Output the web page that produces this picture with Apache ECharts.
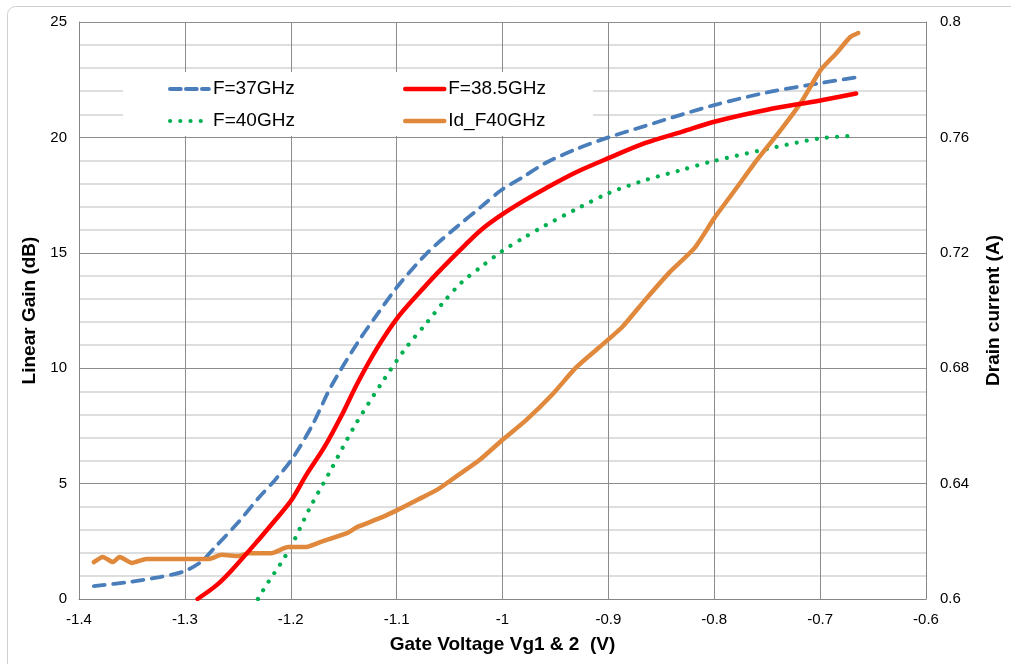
<!DOCTYPE html>
<html>
<head>
<meta charset="utf-8">
<script src="https://cdn.jsdelivr.net/npm/echarts@6/dist/echarts.min.js"></script>
<style>
html,body{margin:0;padding:0;background:#fff;}
#chart{width:1011px;height:664px;}
</style>
</head>
<body>
<div id="chart"></div>
<script>
// ---- data ----
const xTicks = [-1.4, -1.3, -1.2, -1.1, -1.0, -0.9, -0.8, -0.7, -0.6];
const gainTicks = [0, 5, 10, 15, 20, 25];
const idTicks = [0.6, 0.64, 0.68, 0.72, 0.76, 0.8];

const seriesNames = ['F=37GHz', 'F=38.5GHz', 'F=40GHz', 'Id_F40GHz'];

const vg37 = [-1.386, -1.352, -1.324, -1.302, -1.285, -1.271, -1.25, -1.23, -1.215, -1.199, -1.18, -1.162, -1.137, -1.118, -1.099, -1.071, -1.043, -1.02, -1.001, -0.98, -0.959, -0.93, -0.9, -0.865, -0.83, -0.8, -0.75, -0.7, -0.666];
const gain37 = [0.56, 0.74, 0.95, 1.18, 1.6, 2.27, 3.3, 4.4, 5.15, 6.05, 7.5, 9.2, 11.1, 12.35, 13.55, 15.0, 16.13, 17.0, 17.72, 18.3, 18.9, 19.5, 20.0, 20.5, 21.0, 21.4, 21.95, 22.35, 22.6];

const vg385 = [-1.288, -1.27, -1.2555, -1.2305, -1.215, -1.1993, -1.185, -1.168, -1.152, -1.137, -1.118, -1.0994, -1.08, -1.062, -1.037, -1.02, -1.001, -0.98, -0.959, -0.93, -0.9, -0.865, -0.83, -0.8, -0.75, -0.7, -0.666];
const gain385 = [0, 0.6, 1.26, 2.56, 3.4, 4.29, 5.4, 6.6, 7.95, 9.35, 10.9, 12.17, 13.2, 14.1, 15.26, 16.0, 16.64, 17.25, 17.8, 18.5, 19.1, 19.76, 20.25, 20.68, 21.2, 21.6, 21.9];

const vg40 = [-1.231, -1.221, -1.21, -1.199, -1.182, -1.163, -1.14, -1.1135, -1.0917, -1.071, -1.055, -1.039, -1.02, -1.001, -0.98, -0.959, -0.93, -0.9, -0.865, -0.83, -0.803, -0.75, -0.7, -0.667];
const gain40 = [0, 0.75, 1.5, 2.34, 3.94, 5.52, 7.47, 9.4, 10.85, 12.0, 12.9, 13.7, 14.4, 15.05, 15.65, 16.2, 16.9, 17.58, 18.15, 18.6, 18.95, 19.5, 19.96, 20.07];

const vgId = [-1.386, -1.3775, -1.368, -1.3616, -1.35, -1.3363, -1.2773, -1.2652, -1.2493, -1.2399, -1.2184, -1.2024, -1.1865, -1.1715, -1.1463, -1.1369, -1.1154, -1.0994, -1.0807, -1.062, -1.0433, -1.0217, -1.0002, -0.9777, -0.9534, -0.9309, -0.9094, -0.8869, -0.8654, -0.842, -0.8185, -0.7998, -0.7783, -0.7596, -0.7371, -0.7184, -0.6996, -0.6846, -0.6715, -0.664];
const drainId = [0.6128, 0.6146, 0.6128, 0.6146, 0.6125, 0.6139, 0.6139, 0.6153, 0.6149, 0.6159, 0.6159, 0.618, 0.618, 0.6198, 0.6229, 0.625, 0.6281, 0.6308, 0.6343, 0.6378, 0.6426, 0.6482, 0.6551, 0.662, 0.6707, 0.6801, 0.687, 0.6943, 0.7036, 0.7133, 0.7217, 0.7321, 0.7428, 0.7522, 0.7626, 0.7719, 0.7833, 0.7892, 0.7948, 0.7962];

// ---- build ----
const pairs = (xs, ys) => xs.map((x, i) => [x, ys[i]]);
const FONT = 'Arial, "Liberation Sans", sans-serif';
const colors = ['#4A7EBB', '#FF0000', '#00B050', '#E0893D'];
const styles = [
  {color: colors[0], width: 3.8, type: [11, 8.5], cap: 'round'},
  {color: colors[1], width: 4.5, type: 'solid', cap: 'round'},
  {color: colors[2], width: 4.2, type: [0.01, 10.2], cap: 'round'},
  {color: colors[3], width: 4.5, type: 'solid', cap: 'round', join: 'round'}
];
const legendStyles = [
  {color: colors[0], width: 3.8, type: [11, 5], cap: 'round'},
  {color: colors[1], width: 4.5, type: 'solid', cap: 'round'},
  {color: colors[2], width: 4.2, type: [0.01, 10.2], cap: 'round'},
  {color: colors[3], width: 4.5, type: 'solid', cap: 'round'}
];

const chart = echarts.init(document.getElementById('chart'), null, {renderer: 'canvas'});

function legendAt(i, left, top) {
  return {
    data: [seriesNames[i]], left: left, top: top, padding: 0,
    itemWidth: 39, itemHeight: 12, itemGap: 0,
    itemStyle: {opacity: 0, color: 'rgba(0,0,0,0)', borderWidth: 0},
    lineStyle: legendStyles[i],
    textStyle: {fontFamily: FONT, fontSize: 19, color: '#000', lineHeight: 22, padding: [0, 0, 0, -1]},
    selectedMode: false
  };
}

const option = {
  animation: false,
  backgroundColor: '#fff',
  grid: {left: 79, right: 77, top: 22, bottom: 65, containLabel: false},
  legend: [
    legendAt(0, 168, 78),
    legendAt(1, 403, 78),
    legendAt(2, 168, 110),
    legendAt(3, 403, 110)
  ],
  graphic: [
    {type: 'rect', z: 1, silent: true, shape: {x: 123, y: 72, width: 470, height: 64}, style: {fill: '#fff'}},
    {type: 'rect', z: 0, silent: true, shape: {x: 7.5, y: 6.5, width: 1030, height: 700, r: 8}, style: {fill: 'none', stroke: '#cfcfcf', lineWidth: 1}}
  ],
  xAxis: {
    type: 'value', min: xTicks[0], max: xTicks[xTicks.length - 1], interval: 0.1,
    name: 'Gate Voltage Vg1 & 2  (V)', nameLocation: 'middle', nameGap: 36,
    nameTextStyle: {fontFamily: FONT, fontSize: 19, fontWeight: 'bold', color: '#000'},
    axisLine: {show: true, onZero: false, lineStyle: {color: '#868686', width: 1}},
    axisTick: {show: false},
    axisLabel: {fontFamily: FONT, fontSize: 15, color: '#000', margin: 13,
      formatter: v => String(Math.round(v * 10) / 10)},
    splitLine: {show: true, lineStyle: {color: '#8c8c8c', width: 1}}
  },
  yAxis: [
    {
      type: 'value', min: gainTicks[0], max: gainTicks[gainTicks.length - 1], interval: 5,
      position: 'left',
      name: 'Linear Gain (dB)', nameLocation: 'middle', nameGap: 35, nameRotate: 90,
      nameTextStyle: {fontFamily: FONT, fontSize: 19, fontWeight: 'bold', color: '#000'},
      axisLine: {show: true, lineStyle: {color: '#868686', width: 1}},
      axisTick: {show: false},
      axisLabel: {fontFamily: FONT, fontSize: 15, color: '#000', margin: 12},
      splitLine: {show: true, lineStyle: {color: '#8c8c8c', width: 1}},
      minorTick: {show: false, splitNumber: 5},
      minorSplitLine: {show: true, lineStyle: {color: '#d4d4d4', width: 1.5}}
    },
    {
      type: 'value', min: idTicks[0], max: idTicks[idTicks.length - 1], interval: 0.04,
      position: 'right',
      name: 'Drain current (A)', nameLocation: 'middle', nameGap: 58, nameRotate: 90,
      nameTextStyle: {fontFamily: FONT, fontSize: 19, fontWeight: 'bold', color: '#000'},
      axisLine: {show: true, lineStyle: {color: '#868686', width: 1}},
      axisTick: {show: false},
      axisLabel: {fontFamily: FONT, fontSize: 15, color: '#000', margin: 14,
        formatter: v => String(Math.round(v * 100) / 100)},
      splitLine: {show: false}
    }
  ],
  series: [
    {
      name: seriesNames[0], type: 'line', yAxisIndex: 0, data: pairs(vg37, gain37),
      showSymbol: false, symbol: 'none', smooth: 0.3, z: 3,
      lineStyle: styles[0], itemStyle: {color: colors[0]}
    },
    {
      name: seriesNames[1], type: 'line', yAxisIndex: 0, data: pairs(vg385, gain385),
      showSymbol: false, symbol: 'none', smooth: 0.3, z: 4,
      lineStyle: styles[1], itemStyle: {color: colors[1]}
    },
    {
      name: seriesNames[2], type: 'line', yAxisIndex: 0, data: pairs(vg40, gain40),
      showSymbol: false, symbol: 'none', smooth: 0.3, z: 3,
      lineStyle: styles[2], itemStyle: {color: colors[2]}
    },
    {
      name: seriesNames[3], type: 'line', yAxisIndex: 1, data: pairs(vgId, drainId),
      showSymbol: false, symbol: 'none', smooth: 0.2, z: 3,
      lineStyle: styles[3], itemStyle: {color: colors[3]}
    }
  ]
};
chart.setOption(option);
</script>
</body>
</html>
